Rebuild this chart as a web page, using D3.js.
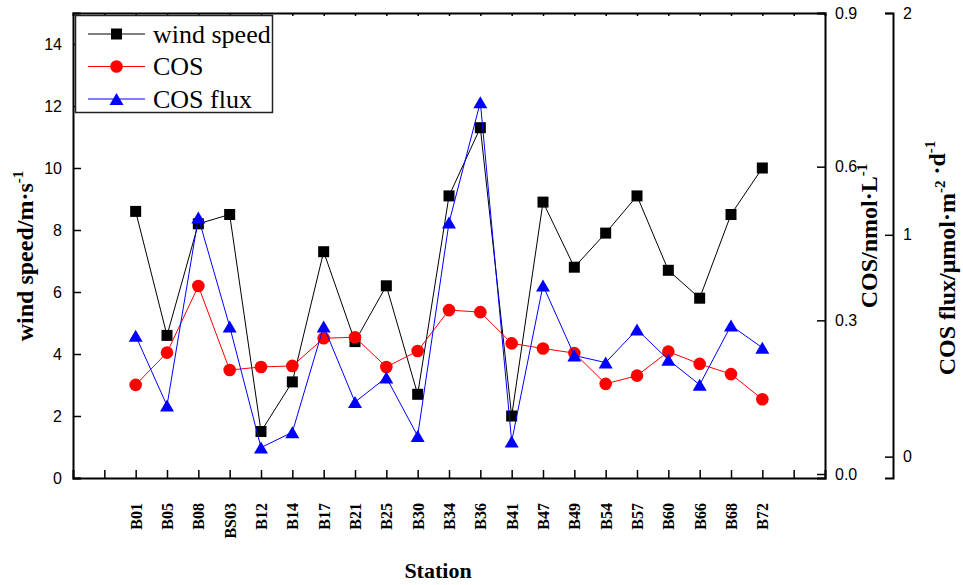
<!DOCTYPE html>
<html>
<head>
<meta charset="utf-8">
<script src="https://cdn.jsdelivr.net/npm/d3@7"></script>
<style>
  body { margin: 0; background: #fff; }
  .tick-label { font-family: Arial, "Liberation Sans", sans-serif; font-size: 16px; }
  .serif { font-family: "Times New Roman", "Liberation Serif", serif; }
</style>
</head>
<body>
<svg id="chart"></svg>
<script>
// Data
const stations = ["B01", "B05", "B08", "BS03", "B12", "B14", "B17", "B21", "B25", "B30", "B34",
                  "B36", "B41", "B47", "B49", "B54", "B57", "B60", "B66", "B68", "B72"];
const windSpeed = [8.6, 4.6, 8.2, 8.5, 1.5, 3.1, 7.3, 4.4, 6.2, 2.7, 9.1,
                   11.3, 2.0, 8.9, 6.8, 7.9, 9.1, 6.7, 5.8, 8.5, 10.0];
const cosConc = [0.174, 0.237, 0.367, 0.203, 0.209, 0.211, 0.265, 0.267, 0.209, 0.240, 0.320,
                 0.316, 0.255, 0.245, 0.236, 0.176, 0.192, 0.239, 0.215, 0.195, 0.146];
const cosFlux = [0.545, 0.230, 1.078, 0.587, 0.041, 0.110, 0.587, 0.246, 0.357, 0.093, 1.055,
                 1.598, 0.068, 0.772, 0.456, 0.424, 0.573, 0.437, 0.324, 0.591, 0.491];
const windTicks = [0, 2, 4, 6, 8, 10, 12, 14];
const cosTicks = [0, 0.3, 0.6, 0.9];
const fluxTicks = [0, 1, 2];

const width = 963, height = 585;
const margin = {left: 73, right: 825, top: 13, bottom: 478};

const svg = d3.select("#chart").attr("width", width).attr("height", height);

// scales: stations sit on positions 2..22 of a 0..24 axis
const x = d3.scaleLinear().domain([0, 24]).range([margin.left, margin.right]);
const yWind = d3.scaleLinear().domain([0, 15]).range([margin.bottom, margin.top]);
const yCos = d3.scaleLinear().domain([-0.0078, 0.9]).range([margin.bottom, margin.top]);
const yFlux = d3.scaleLinear().domain([-0.0963, 2]).range([margin.bottom, margin.top]);

const pos = i => x(i + 2);

// bottom axis, ticks inside
const xAxisG = svg.append("g")
    .attr("transform", `translate(0,${margin.bottom})`)
    .call(d3.axisBottom(x)
        .tickValues(d3.range(1, 24))
        .tickSize(-8)
        .tickFormat(d => stations[d - 2] || ""));
xAxisG.selectAll("text")
    .attr("class", "serif")
    .style("font-size", "16px")
    .style("font-weight", "bold")
    .attr("text-anchor", "end")
    .attr("transform", "translate(0,25) rotate(-90)")
    .attr("x", 0).attr("y", 0).attr("dy", "0.35em");

// top frame
svg.append("g")
    .attr("transform", `translate(0,${margin.top})`)
    .call(d3.axisTop(x).tickValues(d3.range(1, 24)).tickSize(-3).tickFormat(""));

// left axis
svg.append("g")
    .attr("transform", `translate(${margin.left},0)`)
    .call(d3.axisLeft(yWind).tickValues(windTicks).tickSize(-8).tickPadding(11));

// COS axis
svg.append("g")
    .attr("transform", `translate(${margin.right},0)`)
    .call(d3.axisRight(yCos).tickValues(cosTicks).tickSize(-8).tickPadding(10).tickFormat(d3.format(".1f")));

// COS flux axis
svg.append("g")
    .attr("transform", `translate(893,0)`)
    .call(d3.axisRight(yFlux).tickValues(fluxTicks).tickSize(-8).tickPadding(10).tickFormat(d3.format("d")));

svg.selectAll(".tick text").filter(function () { return !this.classList.contains("serif"); })
    .attr("class", "tick-label");
svg.selectAll(".domain").attr("stroke-width", 2);
svg.selectAll(".tick line").attr("stroke-width", 1.5);
svg.selectAll("g").attr("font-size", null).attr("font-family", null);

// series
const series = [
    {name: "wind speed", values: windSpeed, y: yWind, color: "#000000", marker: "square"},
    {name: "COS", values: cosConc, y: yCos, color: "#ff0000", marker: "circle"},
    {name: "COS flux", values: cosFlux, y: yFlux, color: "#0000ff", marker: "triangle"}
];

function drawMarker(g, type, cx, cy, color) {
    if (type === "square") {
        g.append("rect").attr("x", cx - 5.5).attr("y", cy - 5.5)
            .attr("width", 11).attr("height", 11).attr("fill", color);
    } else if (type === "circle") {
        g.append("circle").attr("cx", cx).attr("cy", cy).attr("r", 6.3).attr("fill", color);
    } else {
        g.append("path")
            .attr("d", `M${cx - 7},${cy + 6}L${cx + 7},${cy + 6}L${cx},${cy - 6}Z`)
            .attr("fill", color);
    }
}

series.forEach(s => {
    const line = d3.line().x((d, i) => pos(i)).y(d => s.y(d));
    svg.append("path")
        .datum(s.values)
        .attr("d", line)
        .attr("fill", "none")
        .attr("stroke", s.color)
        .attr("stroke-width", 1);
    const mg = svg.append("g");
    s.values.forEach((v, i) => drawMarker(mg, s.marker, pos(i), s.y(v), s.color));
});

// legend
const legend = svg.append("g");
legend.append("rect")
    .attr("x", 75.5).attr("y", 15.5).attr("width", 197).attr("height", 97)
    .attr("fill", "#fff").attr("stroke", "#222").attr("stroke-width", 1.5);
series.forEach((s, i) => {
    const ly = 34 + i * 32.5;
    legend.append("line").attr("x1", 88).attr("x2", 145).attr("y1", ly).attr("y2", ly)
        .attr("stroke", s.color).attr("stroke-width", 1);
    drawMarker(legend, s.marker, 116.5, ly, s.color);
    legend.append("text").attr("class", "serif")
        .attr("x", 153).attr("y", ly + 8.5)
        .style("font-size", "26px")
        .text(s.name);
});

// axis titles; superscripts are given as ["^", text]
function axisTitle(tx, ty, rot, size, parts) {
    const t = svg.append("text").attr("class", "serif")
        .attr("transform", `translate(${tx},${ty}) rotate(${rot})`)
        .attr("text-anchor", "middle")
        .style("font-size", size + "px").style("font-weight", "bold");
    parts.forEach(p => {
        if (Array.isArray(p)) {
            t.append("tspan").attr("dy", -10).style("font-size", "15px").text(p[1]);
            t.append("tspan").attr("dy", 10).text("");
        } else {
            t.append("tspan").text(p);
        }
    });
}

axisTitle(33, 256, -90, 24, ["wind speed/m·s", ["^", "-1"]]);
axisTitle(877, 236, -90, 24, ["COS/nmol·L", ["^", "-1"]]);
axisTitle(955, 258, -90, 24, ["COS flux/μmol·m", ["^", "-2"], " ·d", ["^", "-1"]]);
axisTitle(438, 578, 0, 22, ["Station"]);
</script>
</body>
</html>
